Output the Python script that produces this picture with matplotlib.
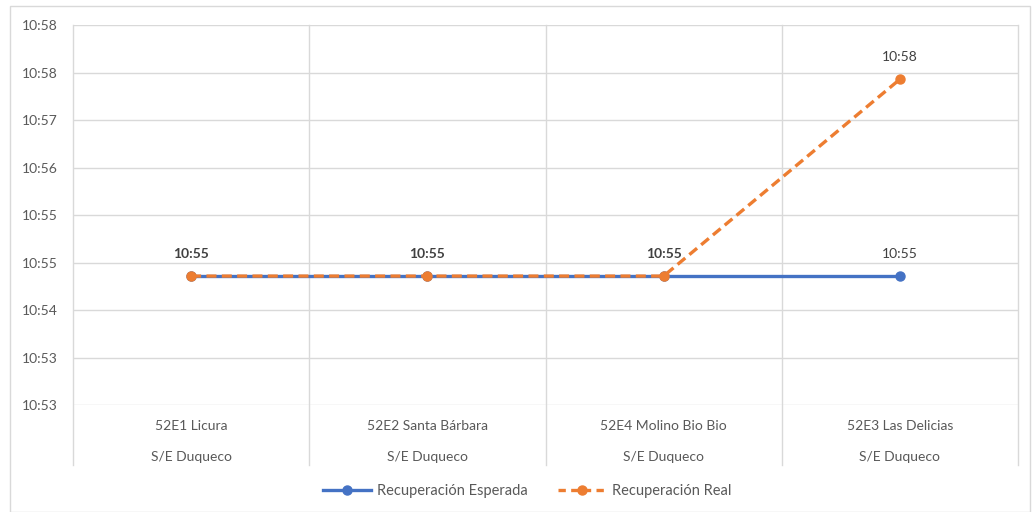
import matplotlib
matplotlib.use('Agg')
import matplotlib.pyplot as plt
from matplotlib.patches import Rectangle
from matplotlib.lines import Line2D
import matplotlib.transforms as mtransforms

plt.rcParams['font.family'] = ['Lato', 'DejaVu Sans']

# datos (minutos después de las 10:00)
estaciones = ['52E1 Licura', '52E2 Santa Bárbara', '52E4 Molino Bio Bio', '52E3 Las Delicias']
subestacion = ['S/E Duqueco', 'S/E Duqueco', 'S/E Duqueco', 'S/E Duqueco']
esperada = [54.55, 54.55, 54.55, 54.55]
real = [54.55, 54.55, 54.55, 57.45]
etiq_esperada = ['10:55', '10:55', '10:55', '10:55']
etiq_real = ['10:55', '10:55', '10:55', '10:58']
y_ticks = [52.65, 53.35, 54.05, 54.75, 55.45, 56.15, 56.85, 57.55, 58.25]
y_labels = ['10:53', '10:53', '10:54', '10:55', '10:55', '10:56', '10:57', '10:58', '10:58']

AZUL = '#4472C4'
NARANJA = '#ED7D31'
GRIS = '#595959'
GRID = '#D9D9D9'

fig = plt.figure(figsize=(10.32, 5.12), dpi=100, facecolor='white')
ax = fig.add_axes([73/1032, 1-405/512, (1018-73)/1032, (405-25)/512])

x = list(range(len(estaciones)))
ax.plot(x, esperada, color=AZUL, lw=2.4, marker='o', ms=6.5, zorder=3,
        label='Recuperación Esperada')
ax.plot(x, real, color=NARANJA, lw=2.4, ls=(0, (3, 1.6)), marker='o', ms=6.5, zorder=4,
        label='Recuperación Real')

ax.set_xlim(-0.5, len(estaciones) - 0.5)
ax.set_ylim(y_ticks[0], y_ticks[-1])
ax.set_yticks(y_ticks)
ax.set_yticklabels(y_labels)
ax.set_xticks([])
ax.tick_params(axis='y', length=0, pad=11, labelsize=10, colors=GRIS)
for s in ax.spines.values():
    s.set_visible(False)
ax.yaxis.grid(True, color=GRID, lw=1)
ax.set_axisbelow(True)

# separadores verticales (se extienden bajo el eje)
for xv in [i - 0.5 for i in range(len(estaciones) + 1)]:
    ax.axvline(xv, ymin=-60/380, ymax=1, color=GRID, lw=1, clip_on=False, zorder=0)

# etiquetas de categoría en dos filas
trans = mtransforms.blended_transform_factory(ax.transData, ax.transAxes)
for i, (e, s) in enumerate(zip(estaciones, subestacion)):
    ax.text(i, -21/380, e, transform=trans, ha='center', va='center', fontsize=10, color=GRIS)
    ax.text(i, -52/380, s, transform=trans, ha='center', va='center', fontsize=10, color=GRIS)

# etiquetas de datos
for i, (v, t) in enumerate(zip(real, etiq_real)):
    if i < 3:
        ax.annotate(t, (i, v), xytext=(0, 16), textcoords='offset points', ha='center',
                    va='center', fontsize=10, color='#404040', fontweight='bold')
    else:
        ax.annotate(t, (i, v), xytext=(0, 16), textcoords='offset points', ha='center',
                    va='center', fontsize=10, color='#404040')
ax.annotate(etiq_esperada[3], (3, esperada[3]), xytext=(0, 16), textcoords='offset points',
            ha='center', va='center', fontsize=10, color='#404040')

# leyenda
h = [Line2D([], [], color=AZUL, lw=2.4, marker='o', ms=6.5),
     Line2D([], [], color=NARANJA, lw=2.4, ls=(0, (2.2, 1.6)), marker='o', ms=6.5)]
leg = fig.legend(h, ['Recuperación Esperada', 'Recuperación Real'], loc='center',
                 bbox_to_anchor=(527/1032, 1-491/512), ncol=2, frameon=False,
                 fontsize=10.5, handlelength=3.3, columnspacing=2.1, handletextpad=0.4)
for t in leg.get_texts():
    t.set_color(GRIS)

# borde exterior
fig.patches.append(Rectangle((10/1032, 0), 1020/1032, 1-6/512, transform=fig.transFigure,
                             fill=False, edgecolor=GRID, lw=1))

fig.savefig('out.png', dpi=100, facecolor='white')
